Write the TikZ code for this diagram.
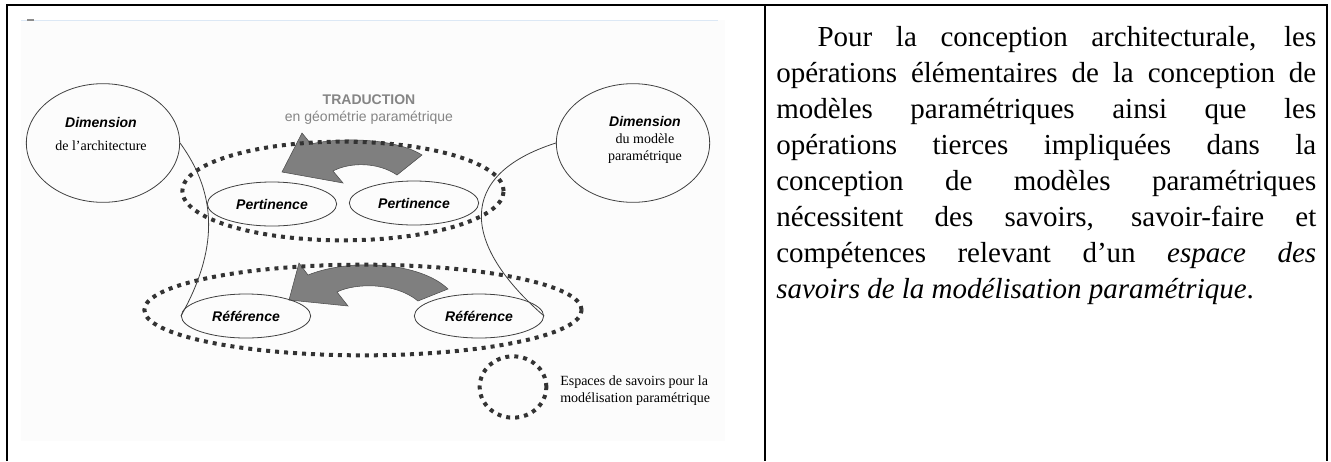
\documentclass[tikz,border=0pt]{standalone}
\usepackage{fontspec}
\setmainfont{Liberation Serif}
\setsansfont{Liberation Sans}
\usetikzlibrary{shapes.geometric}
\definecolor{traduc}{HTML}{858585}
\definecolor{flecheg}{HTML}{7F7F7F}
\definecolor{pointil}{HTML}{333333}
\definecolor{filet}{HTML}{DCE8F5}

\begin{document}
\begin{tikzpicture}[x=0.75pt, y=-0.75pt,
  dim/.style={ellipse, draw=black!75, line width=0.6pt, minimum width=115pt, minimum height=89pt, inner sep=0pt},
  pole/.style={ellipse, draw=black!75, line width=0.6pt, minimum width=97pt, minimum height=33pt, inner sep=0pt,
    font=\sffamily\bfseries\itshape\fontsize{10.5}{12}\selectfont},
  espace/.style={ellipse, draw=pointil, line width=3pt, dash pattern=on 3pt off 3.75pt, inner sep=0pt},
  fleche/.style={fill=flecheg, draw=black!70, line width=0.4pt},
  petit/.style={font=\fontsize{10.5}{12.75}\selectfont, align=center, inner sep=0pt}]
\useasboundingbox (0,0) rectangle (1331,461);
\fill[black!1] (21,20) rectangle (725,441);
\draw[filet, line width=0.75pt] (21,20) -- (718,20);
\draw[black!45, line width=1pt] (27,20) -- (34,20);

\fill[fleche] (302,133) -- (282,172) -- (343,183) -- (333,171) .. controls (350,162) and (378,162) .. (397,175)
  -- (422,155) .. controls (395,138) and (340,137) .. (311,144) -- cycle;
\fill[fleche] (299,263) -- (289,300) -- (348,306) -- (337,292) .. controls (355,283) and (395,282) .. (418,301)
  -- (448,289) .. controls (420,262) and (350,258) .. (308,275) -- cycle;

\node[dim] (dimA) at (103,143) {};
\node[dim] (dimM) at (633,143) {};
\node[petit] (txtA) at (101,134) {\textsf{\bfseries\itshape Dimension}\\[5pt] de l’architecture};
\node[petit] (txtM) at (645,140) {\textsf{\bfseries\itshape Dimension}\\ du modèle\\ paramétrique};
\node[petit, text=traduc, font=\sffamily\bfseries\fontsize{10.5}{12.75}\selectfont] (trad) at (369,110)
  {TRADUCTION\\ \mdseries en géométrie paramétrique};

\node[espace, minimum width=241pt, minimum height=74pt] (espP) at (343,191) {};
\node[espace, minimum width=328pt, minimum height=68pt] (espR) at (363,310) {};
\node[pole] (pertA) at (272,204) {Pertinence};
\node[pole] (pertM) at (414,203) {Pertinence};
\node[pole] (refA) at (246,316) {Référence};
\node[pole] (refM) at (479,316) {Référence};
\draw[black!75, line width=0.6pt] (dimA.east) .. controls (218,195) and (218,250) .. (refA.west)
  (dimM.west) .. controls (455,175) and (462,245) .. (refM.east);

\node[espace, minimum width=50pt, minimum height=46pt] (leg) at (513,387) {};
\node[petit, anchor=west, align=left] (legtxt) at (560,391) {Espaces de savoirs pour la\\ modélisation paramétrique};

\draw[line width=1.5pt] (7,461) -- (7,4.5) -- (1327,4.5) -- (1327,461) (765,4.5) -- (765,461);
\node[anchor=base west, inner sep=0pt, text width=405pt, align=justify, font=\fontsize{21.75}{27}\selectfont] (texte) at (776,46.5)
  {\hspace*{31pt}Pour la conception architecturale, les\linebreak
  opérations élémentaires de la conception de\linebreak
  modèles paramétriques ainsi que les\linebreak
  opérations tierces impliquées dans la\linebreak
  conception de modèles paramétriques\linebreak
  nécessitent des savoirs, savoir-faire et\linebreak
  compétences relevant d’un \textit{espace des}\linebreak
  \textit{savoirs de la modélisation paramétrique}.};
\end{tikzpicture}
\end{document}
